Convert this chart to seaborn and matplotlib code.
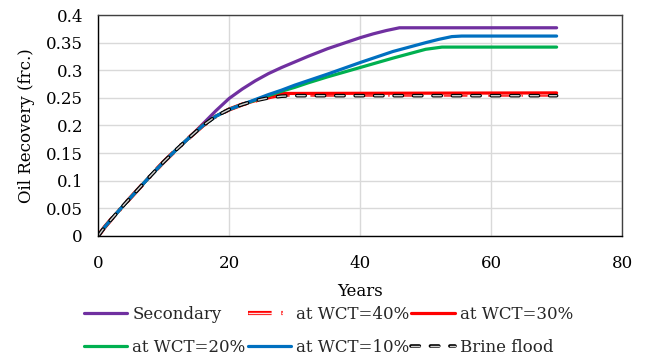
import matplotlib
matplotlib.use("Agg")
import matplotlib.pyplot as plt
import matplotlib.patheffects as pe
import pandas as pd
import seaborn as sns

# Oil recovery (fraction) versus years for each injection scenario
sec_years = [0, 1, 2, 4, 6, 8, 10, 12, 14, 16, 18, 20, 22, 24, 26, 28, 30, 32, 35, 38, 40, 42, 44, 46, 70]
secondary = [0, 0.016, 0.030, 0.057, 0.083, 0.109, 0.134, 0.157, 0.179, 0.203, 0.227, 0.249, 0.266,
             0.281, 0.294, 0.305, 0.315, 0.325, 0.339, 0.351, 0.359, 0.366, 0.372, 0.377, 0.377]

wct40_years = [0, 1, 2, 4, 6, 8, 10, 12, 14, 16, 18, 20, 22, 24, 26, 28, 70]
wct40 = [0, 0.016, 0.030, 0.057, 0.083, 0.109, 0.134, 0.157, 0.179, 0.200, 0.217, 0.229, 0.238,
         0.245, 0.251, 0.256, 0.256]

wct30_years = [0, 1, 2, 4, 6, 8, 10, 12, 14, 16, 18, 20, 22, 24, 26, 28, 70]
wct30 = [0, 0.016, 0.030, 0.057, 0.083, 0.109, 0.134, 0.157, 0.179, 0.200, 0.217, 0.229, 0.238,
         0.245, 0.252, 0.258, 0.259]

wct20_years = [0, 1, 2, 4, 6, 8, 10, 12, 14, 16, 18, 20, 22, 24, 26, 28, 30, 32, 35, 40, 45, 50, 52.5, 70]
wct20 = [0, 0.016, 0.030, 0.057, 0.083, 0.109, 0.134, 0.157, 0.179, 0.200, 0.217, 0.229, 0.238,
         0.246, 0.254, 0.262, 0.269, 0.277, 0.288, 0.305, 0.322, 0.338, 0.342, 0.342]

wct10_years = [0, 1, 2, 4, 6, 8, 10, 12, 14, 16, 18, 20, 22, 24, 26, 28, 30, 32, 35, 40, 45, 50, 52, 54, 55.5, 70]
wct10 = [0, 0.016, 0.030, 0.057, 0.083, 0.109, 0.134, 0.157, 0.179, 0.200, 0.217, 0.229, 0.238,
         0.247, 0.256, 0.264, 0.273, 0.281, 0.293, 0.314, 0.334, 0.350, 0.356, 0.361, 0.362, 0.362]

brine_years = [0, 1, 2, 4, 6, 8, 10, 12, 14, 16, 18, 20, 22, 24, 26, 28, 30, 70]
brine = [0, 0.016, 0.030, 0.057, 0.083, 0.109, 0.134, 0.157, 0.179, 0.200, 0.217, 0.229, 0.238,
         0.245, 0.250, 0.253, 0.254, 0.254]

x_ticks = [0, 20, 40, 60, 80]
y_ticks = [0, 0.05, 0.1, 0.15, 0.2, 0.25, 0.3, 0.35, 0.4]
y_tick_labels = ["0", "0.05", "0.1", "0.15", "0.2", "0.25", "0.3", "0.35", "0.4"]

sns.set_theme(style="whitegrid")
plt.rcParams["font.family"] = ["DejaVu Serif"]
plt.rcParams["lines.scale_dashes"] = False

FS = 12

fig = plt.figure(figsize=(6.46, 3.59), dpi=100)
ax = fig.add_axes([0.152, 0.343, 0.811, 0.615])

series = [
    ("Secondary", sec_years, secondary, dict(color="#7030A0", lw=2.3)),
    ("at WCT=40%", wct40_years, wct40,
     dict(color="#FFE0E0", lw=1.0, dashes=(17, 7, 1, 7),
          path_effects=[pe.Stroke(linewidth=3.0, foreground="#FF0000"), pe.Normal()])),
    ("at WCT=30%", wct30_years, wct30, dict(color="#FF0000", lw=2.3)),
    ("at WCT=20%", wct20_years, wct20, dict(color="#00B050", lw=2.3)),
    ("at WCT=10%", wct10_years, wct10, dict(color="#0070C0", lw=2.3)),
    ("Brine flood", brine_years, brine,
     dict(color="#D0D0D0", lw=1.0, dashes=(6, 8), dash_capstyle="round",
          path_effects=[pe.Stroke(linewidth=2.6, foreground="#000000"), pe.Normal()])),
]

handles = {}
for name, xs, ys, style in series:
    df = pd.DataFrame({"Years": xs, "Recovery": ys})
    kw = dict(style)
    dashes = kw.pop("dashes", None)
    effects = kw.pop("path_effects", None)
    capstyle = kw.pop("dash_capstyle", None)
    sns.lineplot(data=df, x="Years", y="Recovery", ax=ax, label=name,
                 estimator=None, sort=False, legend=False, **kw)
    line = ax.get_lines()[-1]
    line.set_solid_capstyle("round")
    if dashes is not None:
        line.set_dashes(dashes)
    if capstyle is not None:
        line.set_dash_capstyle(capstyle)
    if effects is not None:
        line.set_path_effects(effects)
    handles[name] = line

ax.set_xlim(0, 80)
ax.set_ylim(0, 0.4)
ax.set_xticks(x_ticks)
ax.set_yticks(y_ticks)
ax.set_yticklabels(y_tick_labels)
ax.tick_params(axis="x", length=0, labelsize=FS, colors="#000000", pad=14)
ax.tick_params(axis="y", length=0, labelsize=FS, colors="#000000", pad=11)
ax.grid(True, color="#D9D9D9", lw=1.0)
ax.set_xlabel("Years", fontsize=FS, color="#000000", labelpad=7.5)
ax.set_ylabel("Oil Recovery (frc.)", fontsize=FS, color="#000000", labelpad=7.5)
for side in ["left", "bottom"]:
    ax.spines[side].set_color("#000000")
    ax.spines[side].set_linewidth(1.0)
for side in ["top", "right"]:
    ax.spines[side].set_color("#404040")
    ax.spines[side].set_linewidth(1.0)

# legend is filled column by column, so order handles to read row-wise
order = ["Secondary", "at WCT=20%", "at WCT=40%", "at WCT=10%", "at WCT=30%", "Brine flood"]
fig.legend([handles[n] for n in order], order, loc="upper left",
           bbox_to_anchor=(84 / 646, 1 - 306 / 359), ncol=3, frameon=False, fontsize=FS,
           handlelength=2.6, handletextpad=0.3, columnspacing=0.12, labelspacing=0.93,
           borderpad=0, borderaxespad=0)

fig.savefig("out.png", dpi=100)
